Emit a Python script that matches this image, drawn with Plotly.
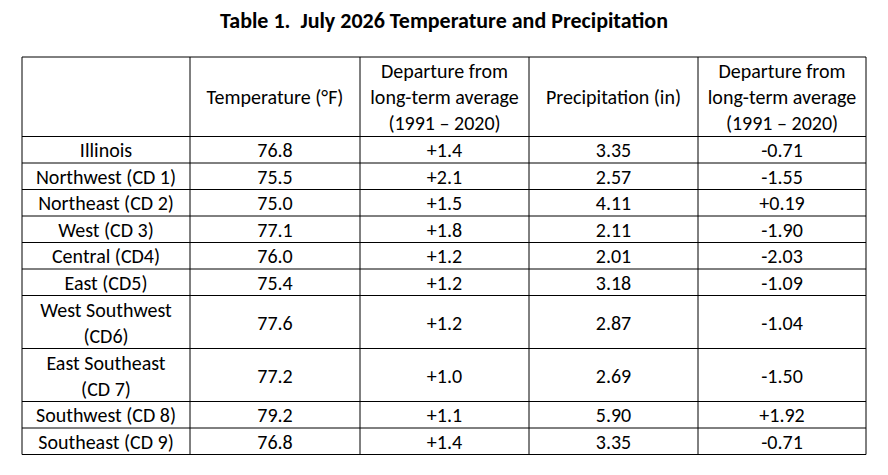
import plotly.graph_objects as go

title = "Table 1.  July 2026 Temperature and Precipitation"

headers = [
    "",
    "Temperature (°F)",
    "Departure from<br>long-term average<br>(1991 – 2020)",
    "Precipitation (in)",
    "Departure from<br>long-term average<br>(1991 – 2020)",
]

regions = [
    "Illinois",
    "Northwest (CD 1)",
    "Northeast (CD 2)",
    "West (CD 3)",
    "Central (CD4)",
    "East (CD5)",
    "West Southwest<br>(CD6)",
    "East Southeast<br>(CD 7)",
    "Southwest (CD 8)",
    "Southeast (CD 9)",
]
temperature = ["76.8", "75.5", "75.0", "77.1", "76.0", "75.4", "77.6", "77.2", "79.2", "76.8"]
temp_departure = ["+1.4", "+2.1", "+1.5", "+1.8", "+1.2", "+1.2", "+1.2", "+1.0", "+1.1", "+1.4"]
precipitation = ["3.35", "2.57", "4.11", "2.11", "2.01", "3.18", "2.87", "2.69", "5.90", "3.35"]
precip_departure = ["-0.71", "-1.55", "+0.19", "-1.90", "-2.03", "-1.09", "-1.04", "-1.50", "+1.92", "-0.71"]

# layout of the table in screen pixels; the page body has an 8px margin,
# so the axes are shifted by that much to map 1:1 onto the window
W, H = 888, 475
body = 8
left, top = 22, 57
col_widths = [168, 170, 169, 169, 168]
line_h = 26.5
text_dy = 2.5  # nudge text down so glyphs sit in the middle of the cell
font_family = "Calibri, Carlito, Lato, sans-serif"

columns = [regions, temperature, temp_departure, precipitation, precip_departure]
table_rows = [headers] + [list(r) for r in zip(*columns)]


def n_lines(row):
    return max(str(t).count("<br>") + 1 for t in row)


# column edges and centres
col_edges = [left]
for w in col_widths:
    col_edges.append(col_edges[-1] + w)
col_mid = [(a + b) / 2 for a, b in zip(col_edges[:-1], col_edges[1:])]

# row edges from the number of text lines in each row
row_edges = [top]
for row in table_rows:
    row_edges.append(row_edges[-1] + n_lines(row) * line_h)
row_mid = [(a + b) / 2 for a, b in zip(row_edges[:-1], row_edges[1:])]

xs, ys, texts = [], [], []
for r, row in enumerate(table_rows):
    for c, t in enumerate(row):
        if t:
            xs.append(col_mid[c])
            ys.append(row_mid[r] + text_dy)
            texts.append(t)

fig = go.Figure(go.Scatter(
    x=xs, y=ys, text=texts, mode="text",
    textposition="middle center",
    textfont=dict(family=font_family, size=20, color="black"),
    hoverinfo="skip", showlegend=False, cliponaxis=False,
))

grid = dict(color="black", width=1)
for y in row_edges:
    fig.add_shape(type="line", x0=col_edges[0], x1=col_edges[-1], y0=y, y1=y, line=grid)
for x in col_edges:
    fig.add_shape(type="line", x0=x, x1=x, y0=row_edges[0], y1=row_edges[-1], line=grid)

fig.update_xaxes(range=[body, W + body], visible=False, fixedrange=True)
fig.update_yaxes(range=[H + body, body], visible=False, fixedrange=True)

fig.update_layout(
    width=W, height=H,
    margin=dict(l=0, r=0, t=0, b=0),
    paper_bgcolor="white", plot_bgcolor="white",
    title=dict(text="<b>" + title + "</b>", x=(444 - body) / W, xanchor="center",
               y=1 - (20 - body) / H, yanchor="middle",
               font=dict(family=font_family, size=22, color="black")),
)

fig.write_html("out.html")
